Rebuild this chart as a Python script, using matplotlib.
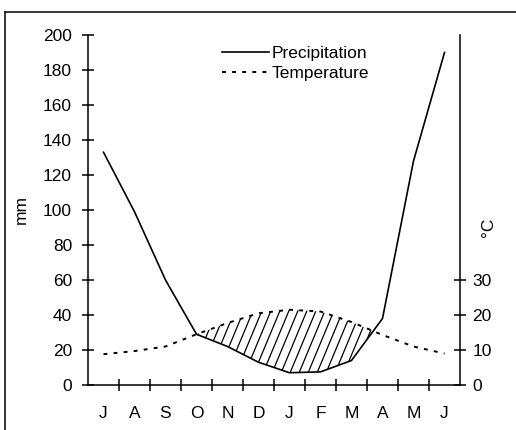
import numpy as np
import matplotlib
matplotlib.use("Agg")
import matplotlib.pyplot as plt
from matplotlib.lines import Line2D

plt.rcParams['font.family'] = ['Liberation Sans', 'DejaVu Sans']

months = ['J', 'A', 'S', 'O', 'N', 'D', 'J', 'F', 'M', 'A', 'M', 'J']
precipitation = [133, 99, 60, 29, 22, 13, 7, 7.5, 14, 38, 128, 190]   # mm
temperature = [8.8, 9.7, 11, 14.5, 17.7, 20.5, 21.5, 21, 18, 14.3, 11, 9]  # °C
left_ticks = [0, 20, 40, 60, 80, 100, 120, 140, 160, 180, 200]
right_ticks = [0, 10, 20, 30]

W, H = 516, 430
fig = plt.figure(figsize=(W / 100, H / 100), dpi=100)
ax = fig.add_axes([88 / W, 45 / H, 372 / W, 350 / H])
ax2 = ax.twinx()

x = np.arange(len(months))
p = np.array(precipitation, dtype=float)
t = np.array(temperature, dtype=float)
tmm = 2 * t  # Walter-Lieth scale: 10 °C = 20 mm

fs = 12.5
lw = 1.2
tstyle = (0, (2.0, 3.2))

ax.set_xlim(-0.5, 11.5)
ax.set_ylim(0, 200)
ax2.set_ylim(0, 100)

# precipitation and temperature
ax.plot(x, p, color='black', lw=lw, solid_joinstyle='miter', zorder=3)
ax2.plot(x, t, color='black', lw=1.4, linestyle=tstyle, zorder=3)

# hatched arid period (temperature above precipitation)
poly = ax.fill_between(x, p, tmm, where=tmm >= p, interpolate=True,
                       facecolor='none', edgecolor='none', lw=0)
clip_paths = poly.get_paths()
px_per_month = 372 / 12
px_per_mm = 350 / 200
slope = 2.4
spacing = 9 / px_per_month
span_mm = 60
dx = (span_mm * px_per_mm / slope) / px_per_month
for cp in clip_paths:
    for x0 in np.arange(1.5, 11, spacing):
        ln, = ax.plot([x0, x0 + dx], [0, span_mm], color='black', lw=0.9, zorder=2)
        ln.set_clip_path(cp, ax.transData)

# axes styling
for a in (ax, ax2):
    a.spines['top'].set_visible(False)
    for s in a.spines.values():
        s.set_linewidth(1.1)
ax.spines['right'].set_visible(False)
ax2.spines['left'].set_visible(False)
ax2.spines['bottom'].set_visible(False)

ax.set_yticks(left_ticks)
ax.tick_params(axis='y', direction='inout', length=9, width=1.1, pad=7, labelsize=fs)
ax2.set_yticks(right_ticks)
ax2.tick_params(axis='y', direction='inout', length=9, width=1.1, pad=4.5, labelsize=fs)

ax.set_xticks(np.arange(0.5, 11, 1.0))
ax.set_xticklabels([])
ax.set_xticks(x, minor=True)
ax.set_xticklabels(months, minor=True)
ax.tick_params(axis='x', which='major', direction='inout', length=9, width=1.1)
ax.tick_params(axis='x', which='minor', length=0, pad=15, labelsize=fs)

ax.set_ylabel('mm', fontsize=fs)
ax.yaxis.set_label_coords(-0.158, 0.5)
ax2.set_ylabel('°C', fontsize=fs, rotation=90)
ax2.yaxis.set_label_coords(1.056, 0.45)

# legend
handles = [Line2D([], [], color='black', lw=lw),
           Line2D([], [], color='black', lw=1.4, linestyle=tstyle)]
leg = ax.legend(handles, ['Precipitation', 'Temperature'], loc='upper left',
                bbox_to_anchor=(222 / W, 1 - 46 / H), bbox_transform=fig.transFigure,
                frameon=False, fontsize=fs, handlelength=2.7, handletextpad=0.15,
                borderpad=0, borderaxespad=0, labelspacing=0.25)

# outer frame (top and left)
fig.add_artist(Line2D([5 / W, 1], [1 - 12 / H, 1 - 12 / H], transform=fig.transFigure,
                      color='black', lw=1.1))
fig.add_artist(Line2D([5 / W, 5 / W], [0, 1 - 12 / H], transform=fig.transFigure,
                      color='black', lw=1.1))

fig.savefig('out.png', dpi=100)
